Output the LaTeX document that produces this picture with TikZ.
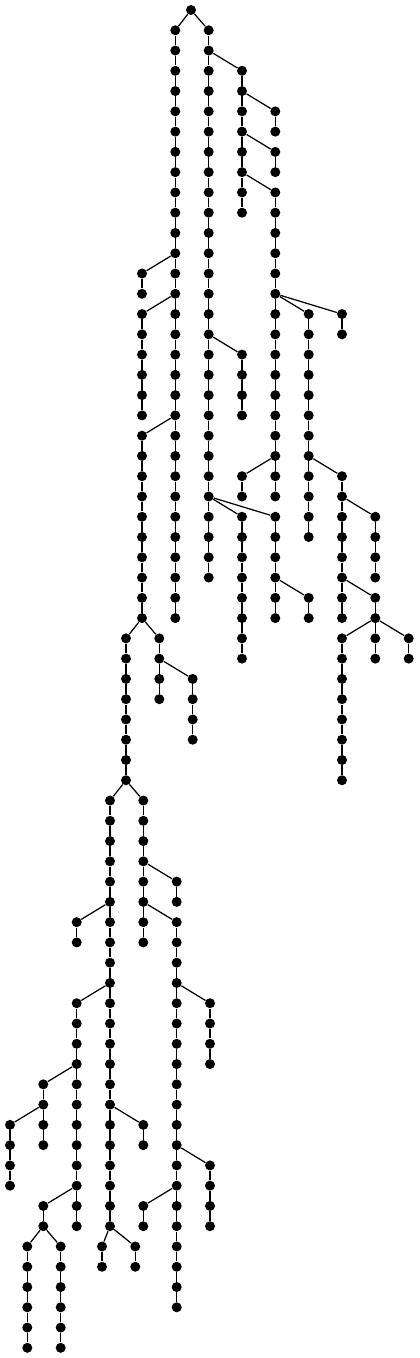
\documentclass[tikz,border=0pt]{standalone}
\usepackage{tikz}

\tikzset{
  dot/.style={circle, fill=black, inner sep=0pt, minimum size=0.2cm},
  edge/.style={line width=0.7pt}
}

\begin{document}
\begin{tikzpicture}[x=0.02cm, y=-0.02cm]
\useasboundingbox (0,0) rectangle (419,1358);

%% root
\node [dot] (root) at (191,10) {};

%% straight runs: name / x / first row / last row
\foreach \n/\x/\a/\b in {
  u10/175.3/1/30, u12/208.7/1/28, u14/242/3/10, u16/275.3/5/6, u16/275.3/7/8,
  u16/275.3/9/24, u20/342/15/16, u18/308.7/15/26, u14/242/17/20, u14/242/23/24,
  u14/242/25/32, u16/275.3/25/30, u18/308.7/29/30, u20/342/23/30, u22/375.3/25/28,
  u22/375.3/29/30, u20/342/31/38, u22/375.3/31/32, u24/408.7/31/32,
  u8/142/13/14, u8/142/15/20, u8/142/21/30, % upper half
  m7/126/31/38, m9/159.3/31/34, m11/192.7/33/36, % middle
  l6/110/39/60, l4/76.7/45/46, l4/76.7/49/60, l2/43.3/53/56, l0/10/55/58,
  l2/43.3/59/60, l1/27.3/61/66, l3/60.7/61/66, l5/102/61/62, l7/135.3/61/62,
  l8/143.3/55/56, l8/143.3/39/46, l10/176.7/43/44, l10/176.7/45/64,
  l12/210/49/52, l12/210/57/60, l8/143.3/59/60} {
  \foreach \r in {\a,...,\b}
    \node [dot] (\n-\r) at (\x,{10+20.27*\r}) {};
  \pgfmathtruncatemacro\s{\a+1}
  \foreach \r in {\s,...,\b} {
    \pgfmathtruncatemacro\p{\r-1}
    \draw [edge] (\n-\p) -- (\n-\r); % down the run
  }
}

%% branches: parent / child
\foreach \p/\c in {
  root/u10-1, root/u12-1, u12-2/u14-3, u14-4/u16-5, u14-6/u16-7, u14-8/u16-9,
  u10-12/u8-13, u10-14/u8-15, u10-20/u8-21, u12-16/u14-17, u16-14/u18-15,
  u16-14/u20-15, u16-22/u14-23, u18-22/u20-23, u12-24/u14-25, u12-24/u16-25,
  u20-24/u22-25, u16-28/u18-29, u20-28/u22-29, u22-30/u20-31, u22-30/u22-31,
  u22-30/u24-31, u8-30/m7-31, u8-30/m9-31, m9-32/m11-33,
  m7-38/l6-39, m7-38/l8-39, l6-44/l4-45, l6-48/l4-49, l6-54/l8-55,
  l6-60/l5-61, l6-60/l7-61, l4-52/l2-53, l4-58/l2-59, l2-54/l0-55,
  l2-60/l1-61, l2-60/l3-61, l8-42/l10-43, l8-44/l10-45, l10-48/l12-49,
  l10-56/l12-57, l10-58/l8-59}
  \draw [edge] (\p) -- (\c);

\end{tikzpicture}
\end{document}
